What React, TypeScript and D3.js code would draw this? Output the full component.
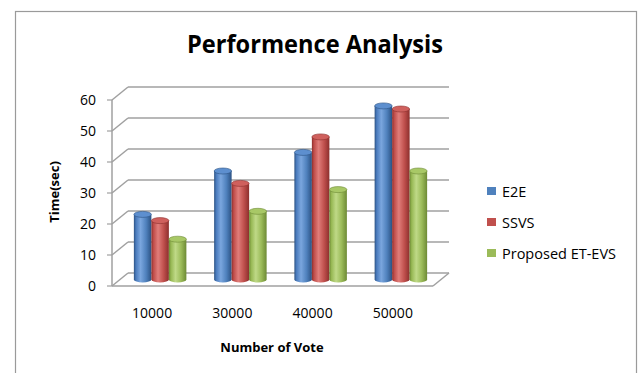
import React from "react";
import * as d3 from "d3";

const categories = ["10000", "30000", "40000", "50000"];
const e2e = [21, 35, 41, 56];
const ssvs = [19, 31, 46, 55];
const proposed = [13, 22, 29, 35];
const seriesNames = ["E2E", "SSVS", "Proposed ET-EVS"];
const yTicks = [0, 10, 20, 30, 40, 50, 60];
const title = "Performence Analysis";
const xTitle = "Number of Vote";
const yTitle = "Time(sec)";

const seriesValues = [e2e, ssvs, proposed];
const colors = [
  { base: "#4F81BD", dark: "#2c5283", mid: "#4a7bbd", light: "#7aa6de", top: "#5d8fcf" },
  { base: "#C0504D", dark: "#8c2f2d", mid: "#bf4c49", light: "#e07d7a", top: "#cf605d" },
  { base: "#9BBB59", dark: "#6d8a35", mid: "#97b854", light: "#bfd987", top: "#a8c866" },
];

const W = 638;
const H = 373;
const DX = 16;
const DY = -13;

export default function App() {
  const xFront = d3.scaleBand<string>().domain(categories).range([112, 433]);
  const yFront = d3.scaleLinear().domain([0, 60]).range([286, 100]);
  const yMid = (v: number) => yFront(v) + DY / 2;
  const bw = 17.5;
  const ry = 3;

  const gridColor = "#a0a0a0";

  return (
    <svg
      width={W}
      height={H}
      style={{ position: "absolute", left: 0, top: 0, background: "#fff" }}
      fontFamily="'Open Sans', sans-serif"
    >
      <defs>
        {colors.map((c, i) => (
          <linearGradient key={i} id={`cyl${i}`} x1="0" x2="1" y1="0" y2="0">
            <stop offset="0" stopColor={c.dark} />
            <stop offset="0.12" stopColor={c.mid} />
            <stop offset="0.38" stopColor={c.light} />
            <stop offset="0.7" stopColor={c.base} />
            <stop offset="1" stopColor={c.dark} />
          </linearGradient>
        ))}
      </defs>
      {/* chart border */}
      <rect x={15.5} y={11.5} width={621} height={400} fill="#fff" stroke="#9a9a9a" strokeWidth={1.2} />

      {/* title */}
      <text
        x={315}
        y={53}
        textAnchor="middle"
        fontWeight="bold"
        fontSize={25}
        textLength={256}
        lengthAdjust="spacingAndGlyphs"
        fill="#000"
      >
        {title}
      </text>

      {/* back wall gridlines & side wall */}
      {yTicks.map((t) => (
        <g key={t}>
          <line x1={112 + DX} x2={433 + DX} y1={yFront(t) + DY} y2={yFront(t) + DY} stroke={gridColor} strokeWidth={1.5} />
          <line x1={112} x2={112 + DX} y1={yFront(t)} y2={yFront(t) + DY} stroke={gridColor} strokeWidth={1.5} />
          <line x1={107} x2={112} y1={yFront(t)} y2={yFront(t)} stroke={gridColor} strokeWidth={1.2} />
          <text x={96} y={yFront(t) + 5} textAnchor="end" fontSize={14} fill="#000">
            {t}
          </text>
        </g>
      ))}
      {/* front axis line */}
      <line x1={112} x2={112} y1={yFront(60)} y2={yFront(0)} stroke={gridColor} strokeWidth={1.5} />
      {/* floor */}
      <line x1={112} x2={433} y1={yFront(0)} y2={yFront(0)} stroke={gridColor} strokeWidth={1.5} />
      <line x1={433} x2={433 + DX} y1={yFront(0)} y2={yFront(0) + DY} stroke={gridColor} strokeWidth={1.5} />

      {/* bars */}
      {categories.map((c, ci) => {
        const cx = (xFront(c) as number) + xFront.bandwidth() / 2 + DX / 2;
        const start = cx - (bw * 3) / 2;
        return (
          <g key={c}>
            {seriesValues.map((vals, si) => {
              const x0 = start + si * bw;
              const x1 = x0 + bw;
              const yt = yMid(vals[ci]);
              const yb = yMid(0);
              const rx = bw / 2;
              const d = `M${x0},${yt} L${x0},${yb} A${rx},${ry} 0 0 0 ${x1},${yb} L${x1},${yt} Z`;
              return (
                <g key={si}>
                  <path d={d} fill={`url(#cyl${si})`} />
                  <ellipse cx={x0 + rx} cy={yt} rx={rx} ry={ry} fill={colors[si].top} stroke={colors[si].dark} strokeWidth={0.6} />
                </g>
              );
            })}
          </g>
        );
      })}

      {/* category labels */}
      {categories.map((c) => (
        <text key={c} x={(xFront(c) as number) + xFront.bandwidth() / 2} y={318} textAnchor="middle" fontSize={14} fill="#000">
          {c}
        </text>
      ))}

      {/* axis titles */}
      <text x={272} y={352} textAnchor="middle" fontWeight="bold" fontSize={13} fill="#000">
        {xTitle}
      </text>
      <text
        transform={`translate(59,192) rotate(-90)`}
        textAnchor="middle"
        fontWeight="bold"
        fontSize={13}
        fill="#000"
      >
        {yTitle}
      </text>

      {/* legend */}
      {seriesNames.map((n, i) => (
        <g key={n}>
          <rect x={487} y={187 + i * 31} width={9} height={8} fill={colors[i].base} />
          <text x={502} y={197 + i * 31} fontSize={14.5} fill="#000">
            {n}
          </text>
        </g>
      ))}
    </svg>
  );
}
